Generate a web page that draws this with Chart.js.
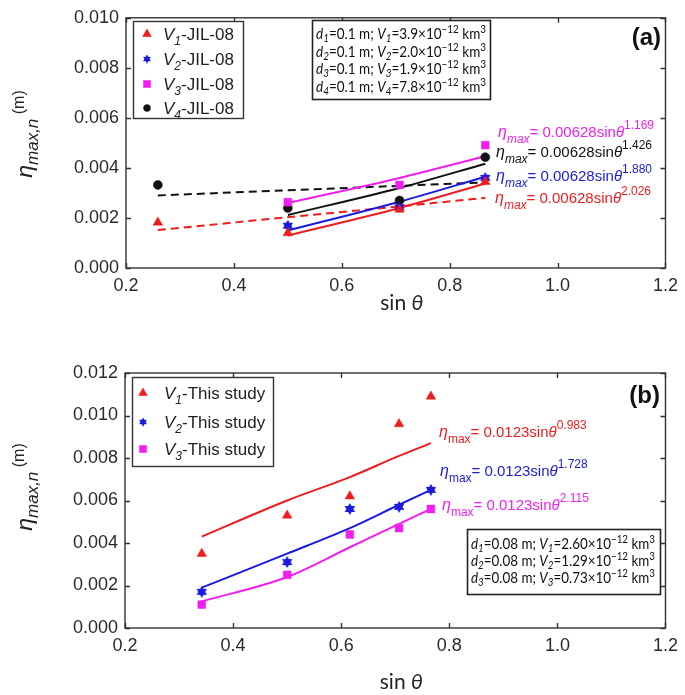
<!DOCTYPE html>
<html>
<head>
<meta charset="utf-8">
<script src="https://cdn.jsdelivr.net/npm/chart.js@4.4.0/dist/chart.umd.min.js"></script>
<style>
  html, body { margin: 0; padding: 0; background: #fff; }
  #wrap { position: relative; width: 685px; height: 695px; }
  canvas { position: absolute; left: 0; }
</style>
</head>
<body>
<div id="wrap">
  <canvas id="chartA" width="685" height="345" style="top:0"></canvas>
  <canvas id="chartB" width="685" height="345" style="top:350px"></canvas>
</div>
<script>
// ---- datos panel (a) ----
const sinA = [0.259, 0.5, 0.707, 0.866];
const sinFitA = [0.5, 0.707, 0.866];
const sinDashA = [0.259, 0.866];
const v1JIL = [0.00182, 0.0014, 0.00234, 0.00345];
const v2JIL = [null, 0.00169, 0.00243, 0.0036];
const v3JIL = [null, 0.00263, 0.00332, 0.00491];
const v4JIL = [0.00332, 0.0024, 0.0027, 0.00443];
const fitV1A = [0.0013, 0.0024, 0.00338];
const fitV2A = [0.0015, 0.00265, 0.00365];
const fitV3A = [0.0026, 0.0036, 0.00447];
const fitV4A = [0.00212, 0.0032, 0.00417];
const dashV1A = [0.00152, 0.0028];
const dashV4A = [0.0029, 0.00342];

// ---- datos panel (b) ----
const sinB = [0.342, 0.5, 0.616, 0.707, 0.766];
const v1Study = [0.0035, 0.0053, 0.0062, 0.0096, 0.0109];
const v2Study = [0.0017, 0.0031, 0.0056, 0.0057, 0.0065];
const v3Study = [0.0011, 0.0025, 0.0044, 0.0047, 0.0056];
const fitV1B = [0.0043, 0.006, 0.0071, 0.0081, 0.0087];
const fitV2B = [0.0019, 0.0035, 0.0047, 0.0058, 0.0065];
const fitV3B = [0.00125, 0.0024, 0.0038, 0.0049, 0.0056];

const xTicks = { min: 0.2, max: 1.2, step: 0.2 };

const RED = "#ee1c1c";
const BLUE = "#1a1ae0";
const MAG = "#f21ef0";
const BLK = "#111111";
const SANS = "'Liberation Sans', Arial, sans-serif";
const CAL = "Lato, 'Open Sans', sans-serif";

function pts(xs, ys) {
  return xs.map((x, i) => ({ x: x, y: ys[i] })).filter((p) => p.y != null);
}

// estrella de seis puntas (hexagrama)
function hexStar(color, size) {
  const c = document.createElement("canvas");
  c.width = size; c.height = size;
  const g = c.getContext("2d");
  const r = size / 2;
  g.fillStyle = color;
  [0, Math.PI].forEach((rot) => {
    g.beginPath();
    for (let k = 0; k < 3; k++) {
      const a = rot - Math.PI / 2 + k * 2 * Math.PI / 3;
      const px = r + Math.cos(a) * r, py = r + Math.sin(a) * r;
      if (k === 0) g.moveTo(px, py); else g.lineTo(px, py);
    }
    g.closePath();
    g.fill();
  });
  return c;
}
const starBlue = hexStar(BLUE, 12);

function markers(label, data, color, style, radius) {
  return {
    label: label, data: data, showLine: false, order: 0,
    pointStyle: style, pointRadius: radius, pointHoverRadius: radius,
    backgroundColor: color, borderColor: color, pointBorderWidth: 0.5,
  };
}
function fitLine(data, color, dash) {
  return {
    label: "", data: data, showLine: true, order: 1,
    pointRadius: 0, borderColor: color, borderWidth: 2,
    borderDash: dash || [], cubicInterpolationMode: "monotone", fill: false,
  };
}

// texto con subíndices / superíndices
function runs(ctx, x, y, parts, color) {
  ctx.fillStyle = color;
  ctx.textAlign = "left";
  ctx.textBaseline = "alphabetic";
  parts.forEach((p) => {
    ctx.font = p[1];
    ctx.fillText(p[0], x, y + (p[2] || 0));
    x += ctx.measureText(p[0]).width;
  });
  return x;
}
function runsWidth(ctx, parts) {
  let w = 0;
  parts.forEach((p) => { ctx.font = p[1]; w += ctx.measureText(p[0]).width; });
  return w;
}

function drawFrame(chart) {
  const { ctx, chartArea: a, scales } = chart;
  ctx.save();
  ctx.strokeStyle = "#333";
  ctx.lineWidth = 1.4;
  ctx.strokeRect(a.left, a.top, a.right - a.left, a.bottom - a.top);
  ctx.beginPath();
  scales.x.ticks.forEach((t) => {
    const px = Math.round(scales.x.getPixelForValue(t.value)) + 0.5;
    ctx.moveTo(px, a.bottom); ctx.lineTo(px, a.bottom - 5);
    ctx.moveTo(px, a.top); ctx.lineTo(px, a.top + 5);
  });
  scales.y.ticks.forEach((t) => {
    const py = Math.round(scales.y.getPixelForValue(t.value)) + 0.5;
    ctx.moveTo(a.left, py); ctx.lineTo(a.left + 5, py);
    ctx.moveTo(a.right, py); ctx.lineTo(a.right - 5, py);
  });
  ctx.stroke();
  ctx.restore();
}

function drawAxisTitles(chart, yCenter, xTitleY) {
  const { ctx, chartArea: a } = chart;
  ctx.save();
  const tx = [["sin ", "21px " + CAL], ["θ", "italic 21px " + CAL]];
  const w = runsWidth(ctx, tx);
  runs(ctx, (a.left + a.right) / 2 + 6 - w / 2, xTitleY, tx, "#222");
  const ty = [["η", "italic 23px " + SANS], ["max,n", "italic 17px " + SANS, 6], [" (m)", "16px " + SANS, -8]];
  const wy = runsWidth(ctx, ty);
  ctx.translate(32, yCenter);
  ctx.rotate(-Math.PI / 2);
  runs(ctx, -wy / 2, 0, ty, "#222");
  ctx.restore();
}

function drawLegend(chart, box, items, rowY, markX, textX, fontPx) {
  const { ctx } = chart;
  ctx.save();
  ctx.fillStyle = "#fff";
  ctx.fillRect(box[0], box[1], box[2], box[3]);
  ctx.strokeStyle = "#333";
  ctx.lineWidth = 1.4;
  ctx.strokeRect(box[0] + 0.5, box[1] + 0.5, box[2], box[3]);
  items.forEach((it, i) => {
    const y = rowY[i];
    ctx.fillStyle = it.color;
    ctx.strokeStyle = it.color;
    ctx.lineWidth = 0.5;
    if (it.style instanceof HTMLCanvasElement) {
      ctx.drawImage(it.style, markX - 4.5, y - 4.5, 9, 9);
    } else {
      Chart.helpers.drawPoint(ctx, { pointStyle: it.style, radius: it.r, rotation: 0, borderWidth: 0.5 }, markX, y);
    }
    runs(ctx, textX, y + 6, [
      ["V", "italic " + fontPx + "px " + SANS],
      [it.sub, "italic " + (fontPx - 5) + "px " + SANS, 5],
      [it.text, fontPx + "px " + SANS],
    ], "#222");
  });
  ctx.restore();
}

// recuadro de parámetros, comprimido en horizontal para caber
function drawInfoBox(chart, box, lines, x0, y0, dy, fontPx, targetW) {
  const { ctx } = chart;
  ctx.save();
  ctx.fillStyle = "#fff";
  ctx.fillRect(box[0], box[1], box[2], box[3]);
  ctx.strokeStyle = "#222";
  ctx.lineWidth = 1.6;
  ctx.strokeRect(box[0] + 0.5, box[1] + 0.5, box[2], box[3]);
  const f = fontPx + "px " + CAL, fi = "italic " + fontPx + "px " + CAL;
  const s = (fontPx - 4) + "px " + CAL, si = "italic " + (fontPx - 4) + "px " + CAL;
  lines.forEach((ln, i) => {
    const parts = [
      ["d", fi], [ln[0], si, 3], ["=" + ln[1] + " m; ", f],
      ["V", fi], [ln[0], si, 3], ["=" + ln[2] + "×10", f],
      ["−12", s, -6], [" km", f], ["3", s, -6],
    ];
    const k = Math.min(1, targetW / runsWidth(ctx, parts));
    ctx.save();
    ctx.translate(x0, y0 + i * dy);
    ctx.scale(k, 1);
    runs(ctx, 0, 0, parts, "#111");
    ctx.restore();
  });
  ctx.restore();
}

function drawEq(ctx, x, y, coef, expo, color, subItalic, px) {
  runs(ctx, x, y, [
    ["η", "italic " + (px + 1) + "px " + SANS],
    ["max", (subItalic ? "italic " : "") + (px - 3) + "px " + SANS, 6],
    ["= " + coef + "sin", px + "px " + SANS],
    ["θ", "italic " + px + "px " + SANS],
    [expo, (px - 3) + "px " + SANS, -8],
  ], color);
}

function commonOptions(yMax, topPad, xAxisH) {
  return {
    responsive: false,
    animation: false,
    events: [],
    layout: { padding: { left: 0, right: 16, top: topPad, bottom: 0 } },
    plugins: { legend: { display: false }, tooltip: { enabled: false } },
    scales: {
      x: {
        type: "linear", min: xTicks.min, max: xTicks.max,
        grid: { display: false, drawTicks: false }, border: { display: false },
        ticks: { stepSize: xTicks.step, padding: 7, color: "#2a2a2a", font: { family: SANS, size: 18 },
          callback: (v) => v.toFixed(1) },
        afterFit: (s) => { s.height = xAxisH; },
      },
      y: {
        type: "linear", min: 0, max: yMax,
        grid: { display: false, drawTicks: false }, border: { display: false },
        ticks: { stepSize: 0.002, padding: 7, color: "#2a2a2a", font: { family: SANS, size: 18 },
          callback: (v) => v.toFixed(3) },
        afterFit: (s) => { s.width = 126; },
      },
    },
  };
}

// ---- Panel (a) ----
const optsA = commonOptions(0.010, 13, 77);
new Chart(document.getElementById("chartA"), {
  type: "scatter",
  data: {
    datasets: [
      markers("V1-JIL-08", pts(sinA, v1JIL), RED, "triangle", 5.5),
      markers("V2-JIL-08", pts(sinA, v2JIL), BLUE, starBlue, 6),
      markers("V3-JIL-08", pts(sinA, v3JIL), MAG, "rect", 5.5),
      markers("V4-JIL-08", pts(sinA, v4JIL), BLK, "circle", 4.5),
      fitLine(pts(sinFitA, fitV1A), RED),
      fitLine(pts(sinFitA, fitV2A), BLUE),
      fitLine(pts(sinFitA, fitV3A), MAG),
      fitLine(pts(sinFitA, fitV4A), BLK),
      fitLine(pts(sinDashA, dashV1A), RED, [8, 5]),
      fitLine(pts(sinDashA, dashV4A), BLK, [8, 5]),
    ],
  },
  options: optsA,
  plugins: [{
    id: "decorA",
    afterDraw(chart) {
      const ctx = chart.ctx;
      drawFrame(chart);
      drawAxisTitles(chart, 134, 310);
      drawLegend(chart, [133, 21, 110, 97], [
        { color: RED, style: "triangle", r: 5, sub: "1", text: "-JIL-08" },
        { color: BLUE, style: starBlue, sub: "2", text: "-JIL-08" },
        { color: MAG, style: "rect", r: 5, sub: "3", text: "-JIL-08" },
        { color: BLK, style: "circle", r: 3.5, sub: "4", text: "-JIL-08" },
      ], [34, 59, 84, 108], 147, 163, 17);
      drawInfoBox(chart, [312, 20, 178, 79], [
        ["1", "0.1", "3.9"], ["2", "0.1", "2.0"], ["3", "0.1", "1.9"], ["4", "0.1", "7.8"],
      ], 316, 39, 17.6, 15, 170);
      ctx.save();
      ctx.font = "bold 24px " + SANS;
      ctx.fillStyle = "#111";
      ctx.textAlign = "right";
      ctx.fillText("(a)", 661, 45);
      ctx.restore();
      drawEq(ctx, 498, 137, "0.00628", "1.169", MAG, true, 15);
      drawEq(ctx, 496, 157, "0.00628", "1.426", BLK, true, 15);
      drawEq(ctx, 496, 181, "0.00628", "1.880", BLUE, true, 15);
      drawEq(ctx, 495, 203, "0.00628", "2.026", RED, true, 15);
    },
  }],
});

// ---- Panel (b) ----
const optsB = commonOptions(0.012, 23, 67);
optsB.layout.padding.right = 18;
optsB.scales.y.afterFit = (s) => { s.width = 125; };
new Chart(document.getElementById("chartB"), {
  type: "scatter",
  data: {
    datasets: [
      markers("V1-This study", pts(sinB, v1Study), RED, "triangle", 5.5),
      markers("V2-This study", pts(sinB, v2Study), BLUE, starBlue, 6),
      markers("V3-This study", pts(sinB, v3Study), MAG, "rect", 5.5),
      fitLine(pts(sinB, fitV1B), RED),
      fitLine(pts(sinB, fitV2B), BLUE),
      fitLine(pts(sinB, fitV3B), MAG),
    ],
  },
  options: optsB,
  plugins: [{
    id: "decorB",
    afterDraw(chart) {
      const ctx = chart.ctx;
      drawFrame(chart);
      drawAxisTitles(chart, 137, 339);
      drawLegend(chart, [132, 27, 141, 89], [
        { color: RED, style: "triangle", r: 5, sub: "1", text: "-This study" },
        { color: BLUE, style: starBlue, sub: "2", text: "-This study" },
        { color: MAG, style: "rect", r: 5, sub: "3", text: "-This study" },
      ], [43, 72, 99], 143, 164, 17);
      drawInfoBox(chart, [467, 179, 193, 65], [
        ["1", "0.08", "2.60"], ["2", "0.08", "1.29"], ["3", "0.08", "0.73"],
      ], 471, 199, 17, 15, 184);
      ctx.save();
      ctx.font = "bold 24px " + SANS;
      ctx.fillStyle = "#111";
      ctx.textAlign = "right";
      ctx.fillText("(b)", 660, 53);
      ctx.restore();
      drawEq(ctx, 439, 87, "0.0123", "0.983", RED, false, 15);
      drawEq(ctx, 440, 126, "0.0123", "1.728", BLUE, false, 15);
      drawEq(ctx, 442, 160, "0.0123", "2.115", MAG, false, 15);
    },
  }],
});
</script>
</body>
</html>
